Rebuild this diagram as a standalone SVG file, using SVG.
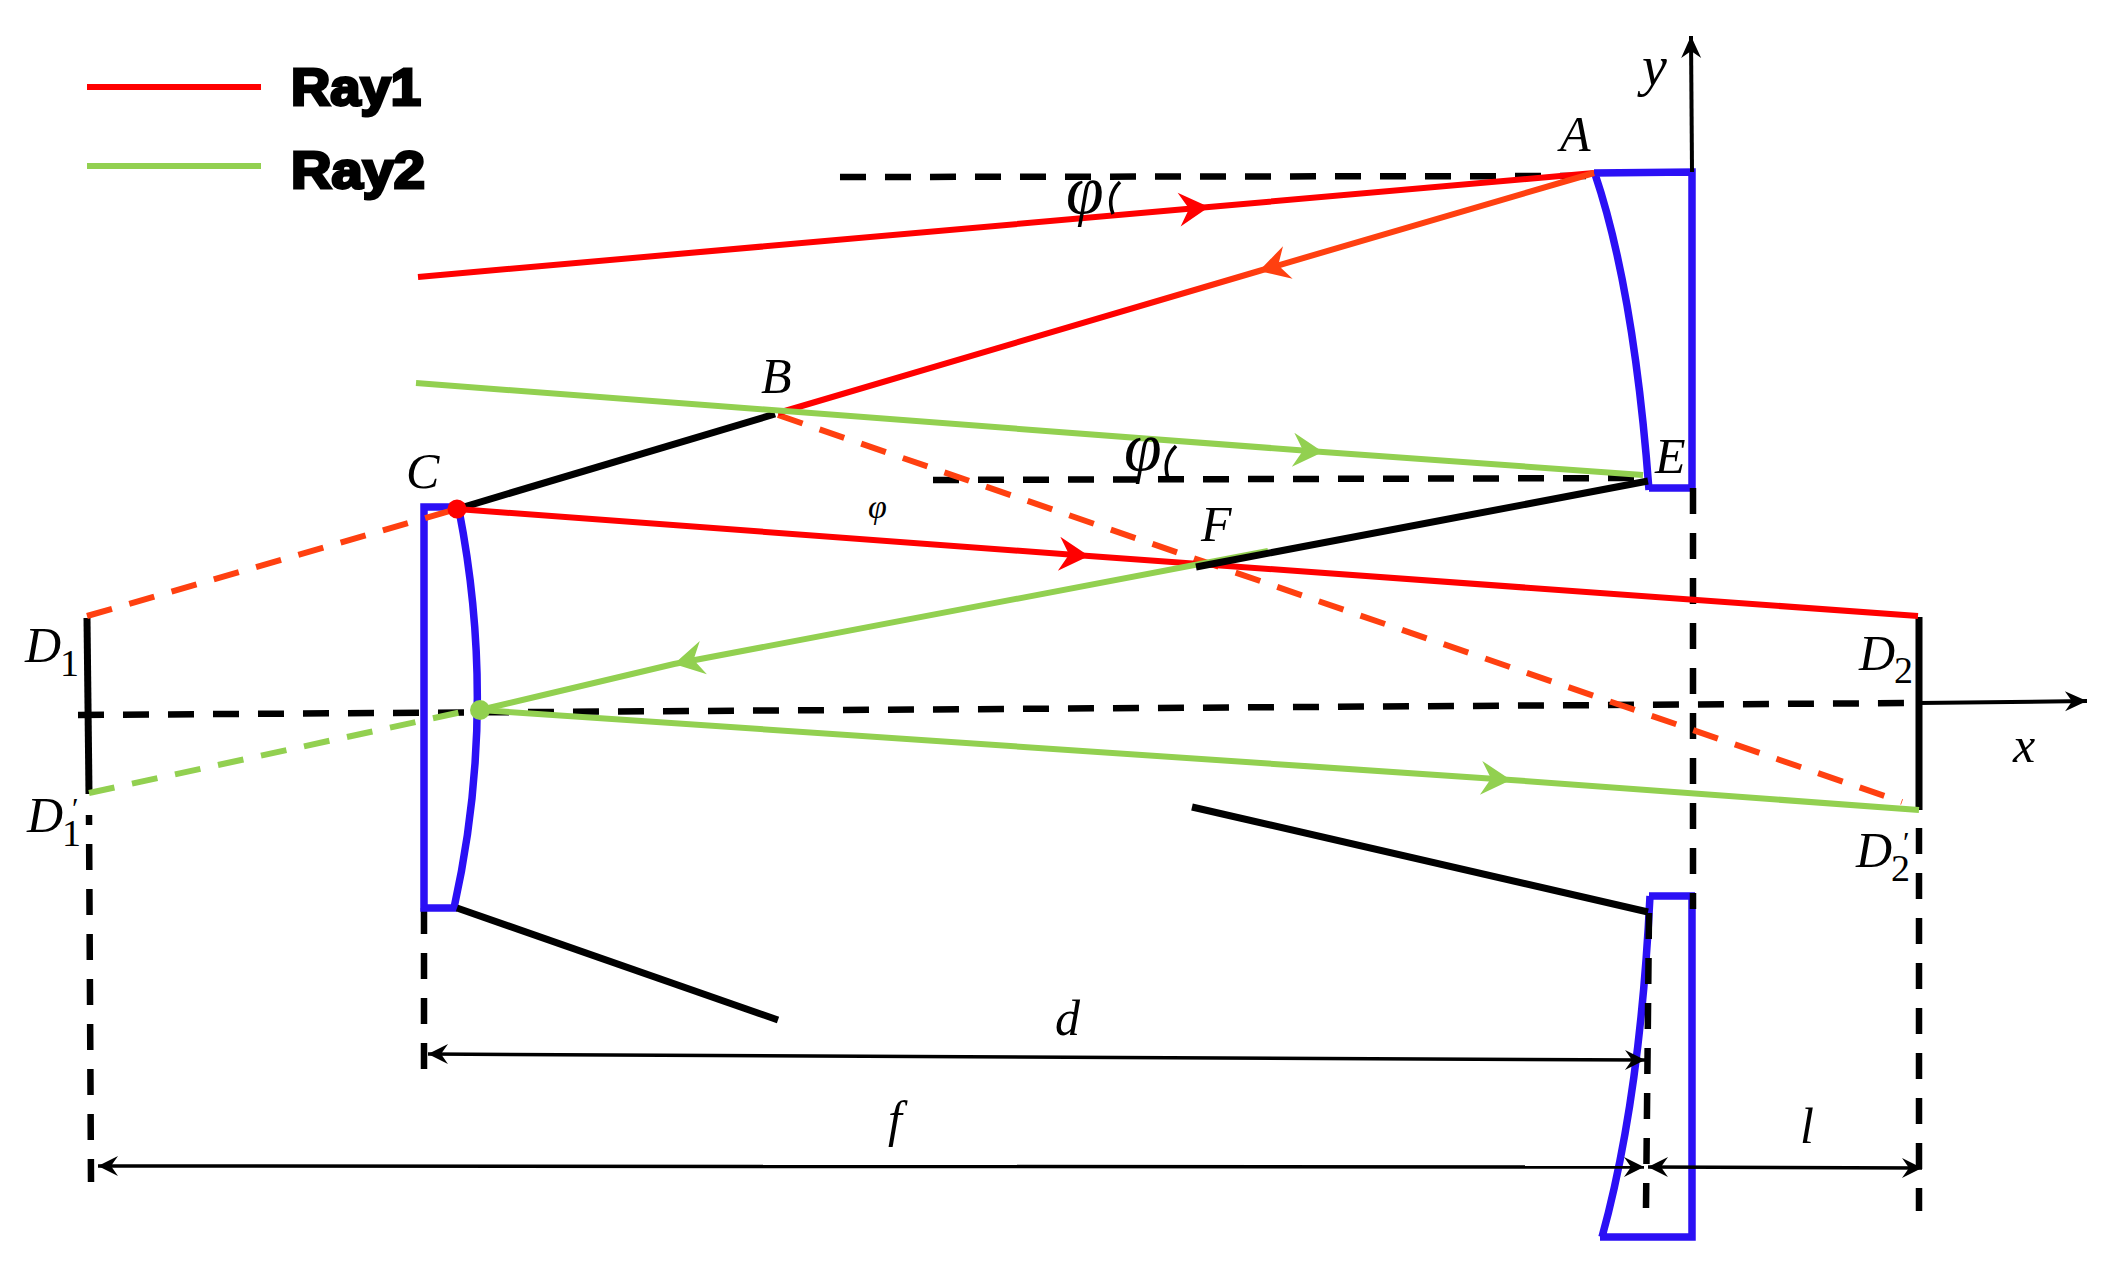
<svg xmlns="http://www.w3.org/2000/svg" width="2121" height="1283" viewBox="0 0 2121 1283">
<style>
.red{stroke:#ff0000;stroke-width:6;fill:none}
.grn{stroke:#92d050;stroke-width:6;fill:none}
.org{stroke:#ff4010;stroke-width:6;fill:none;stroke-dasharray:26 18}
.grd{stroke:#92d050;stroke-width:6;fill:none;stroke-dasharray:26 18}
.blk{stroke:#000;stroke-width:7;fill:none}
.dsh{stroke:#000;stroke-width:6.5;fill:none;stroke-dasharray:26 19}
.dim{stroke:#000;stroke-width:3.5;fill:none;marker-start:url(#aS);marker-end:url(#aE)}
.ax{stroke:#000;stroke-width:4;fill:none;marker-end:url(#aX)}
.lens{stroke:#2b10f5;stroke-width:7.5;fill:none;stroke-linejoin:miter}
.m{font-family:"Liberation Serif","DejaVu Serif",serif;font-style:italic;font-size:50px;fill:#000}
.p{font-family:"Liberation Serif","DejaVu Serif",serif;font-style:italic;font-size:68px;fill:#000}
.s{font-family:"Liberation Serif","DejaVu Serif",serif;font-size:38px;fill:#000}
.lg{font-family:"Liberation Sans",Arial,sans-serif;font-weight:bold;font-size:52px;fill:#000;stroke:#000;stroke-width:3}
</style>
<defs>
<marker id="aE" markerUnits="userSpaceOnUse" markerWidth="30" markerHeight="24" refX="22" refY="12" orient="auto"><path d="M2,2 L22,12 L2,22 L9,12Z" fill="#000"/></marker>
<marker id="aS" markerUnits="userSpaceOnUse" markerWidth="30" markerHeight="24" refX="2" refY="12" orient="auto"><path d="M22,2 L2,12 L22,22 L15,12Z" fill="#000"/></marker>
<marker id="aX" markerUnits="userSpaceOnUse" markerWidth="30" markerHeight="24" refX="24" refY="12" orient="auto"><path d="M2,2 L24,12 L2,22 L9,12Z" fill="#000"/></marker>
<marker id="rR" markerUnits="userSpaceOnUse" markerWidth="38" markerHeight="38" refX="33" refY="19" orient="auto"><path d="M3,2 L33,19 L3,36 L13,19Z" fill="#ff0000"/></marker>
<marker id="rG" markerUnits="userSpaceOnUse" markerWidth="38" markerHeight="38" refX="33" refY="19" orient="auto"><path d="M3,2 L33,19 L3,36 L13,19Z" fill="#92d050"/></marker>
<marker id="rO" markerUnits="userSpaceOnUse" markerWidth="38" markerHeight="38" refX="33" refY="19" orient="auto"><path d="M3,2 L33,19 L3,36 L13,19Z" fill="#ff4010"/></marker>
<linearGradient id="ab" gradientUnits="userSpaceOnUse" x1="1594" y1="173" x2="1120" y2="312"><stop offset="0" stop-color="#ff4010"/><stop offset="0.7" stop-color="#ff4010"/><stop offset="1" stop-color="#ff0000"/></linearGradient>
</defs>

<g id="legend">
<line x1="87" y1="87" x2="261" y2="87" class="red"/>
<line x1="87" y1="166" x2="261" y2="166" class="grn"/>
<text x="291" y="105" class="lg" textLength="130" lengthAdjust="spacingAndGlyphs">Ray1</text>
<text x="291" y="188" class="lg" textLength="134" lengthAdjust="spacingAndGlyphs">Ray2</text>
</g>

<g id="guides">
<line x1="78" y1="715" x2="1918" y2="703" class="dsh"/>
<line x1="840" y1="177" x2="1594" y2="176" class="dsh"/>
<line x1="933" y1="480" x2="1648" y2="478" class="dsh"/>
<line x1="89" y1="815" x2="91" y2="1182" class="dsh" stroke-dashoffset="16"/>
<line x1="424" y1="908" x2="424" y2="1069" class="dsh"/>
<line x1="1919" y1="828" x2="1919" y2="1211" class="dsh"/>
</g>

<g id="lens-top"><path d="M1594,173 L1692,172 L1692,488 L1649,488 M1595,174 Q1634,290 1649,490" class="lens"/></g>
<g id="lens-left"><path d="M457,507 L424,507 L424,908 L457,908 M459,510 Q498,710 454,908" class="lens"/></g>
<g id="lens-bottom"><path d="M1695,896 L1649,896 M1692,896 L1692,1237 L1600,1237 M1650,896 Q1640,1100 1602,1237" class="lens"/></g>

<g id="connectors">
<line x1="1693" y1="488" x2="1693" y2="909" class="dsh" stroke-dasharray="26 19.25"/>
<line x1="1649" y1="913" x2="1646" y2="1208" class="dsh" stroke-dasharray="26 19"/>
<line x1="87" y1="618" x2="89" y2="794" class="blk"/>
<line x1="1919" y1="617" x2="1919" y2="810" class="blk"/>
<line x1="457" y1="509" x2="775" y2="414" class="blk"/>
<line x1="457" y1="908" x2="778" y2="1020" class="blk"/>
<line x1="1192" y1="807" x2="1648" y2="912" class="blk"/>

<line x1="87" y1="616" x2="457" y2="509" class="org"/>
<line x1="89" y1="793" x2="462" y2="712" class="grd"/>
<line x1="778" y1="415" x2="1902" y2="802" class="org"/>

<path d="M418,277 L1209,207 L1594,173" class="red" marker-mid="url(#rR)"/>
<path d="M1594,173 L1259,271 L778,413" style="fill:none;stroke:url(#ab);stroke-width:6" marker-mid="url(#rO)"/>
<path d="M416,383 L1323,452 L1643,475" class="grn" marker-mid="url(#rG)"/>
<path d="M457,509 L1089,556 L1918,616" class="red" marker-mid="url(#rR)"/>
<path d="M1268,551 L674,664 L480,710" class="grn" marker-mid="url(#rG)"/>
<path d="M480,710 L1511,780 L1919,810" class="grn" marker-mid="url(#rG)"/>
<line x1="1648" y1="481" x2="1196" y2="567" class="blk"/>

<line x1="1692" y1="172" x2="1691" y2="36" class="ax"/>
<line x1="1918" y1="703" x2="2087" y2="701" class="ax"/>
<line x1="428" y1="1054" x2="1645" y2="1060" class="dim"/>
<line x1="98" y1="1166" x2="1644" y2="1167" class="dim"/>
<line x1="1648" y1="1167" x2="1922" y2="1168" class="dim"/>

<path d="M1120,182 Q1106,196 1113,214" stroke="#000" stroke-width="3.5" fill="none"/>
<path d="M1176,446 Q1162,460 1168,478" stroke="#000" stroke-width="3.5" fill="none"/>
</g>

<g id="point-C"><circle cx="457" cy="509" r="9.5" fill="#ff0000"/></g>
<g id="point-G"><circle cx="480" cy="710" r="10" fill="#92d050"/></g>

<g id="labels">
<text x="1560" y="151" class="m">A</text>
<text x="1642" y="85" class="m" style="font-size:56px">y</text>
<text x="761" y="393" class="m">B</text>
<text x="406" y="488" class="m">C</text>
<text x="1655" y="473" class="m">E</text>
<text x="1201" y="541" class="m">F</text>
<text x="25" y="662" class="m">D</text><text x="60" y="676" class="s">1</text>
<text x="27" y="832" class="m">D</text><text x="62" y="846" class="s">1</text><text x="72" y="818" class="s" style="font-size:30px">′</text>
<text x="1859" y="670" class="m">D</text><text x="1894" y="683" class="s">2</text>
<text x="1856" y="867" class="m">D</text><text x="1891" y="881" class="s">2</text><text x="1903" y="852" class="s" style="font-size:30px">′</text>
<text x="2013" y="762" class="m">x</text>
<text x="1055" y="1035" class="m">d</text>
<text x="888" y="1136" class="m">f</text>
<text x="1800" y="1143" class="m">l</text>
<text x="1066" y="213" class="p">φ</text>
<text x="1124" y="470" class="p">φ</text>
<text x="868" y="518" class="m" style="font-size:34px">φ</text>
</g>
</svg>
